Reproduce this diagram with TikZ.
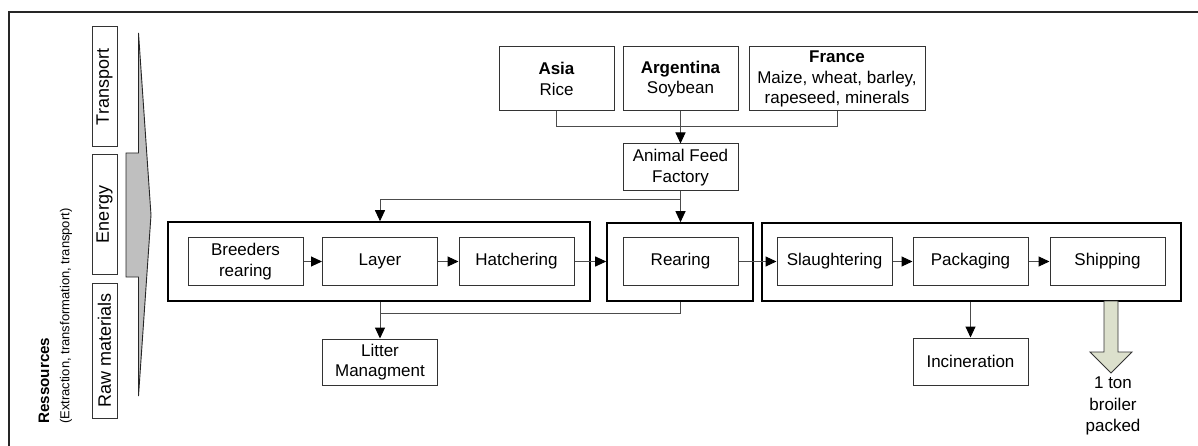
\documentclass[tikz,border=0pt]{standalone}
\usepackage{fontspec}
\setmainfont{Liberation Sans}
\usetikzlibrary{arrows.meta}
\definecolor{outfill}{RGB}{220,224,204}
\begin{document}
\begin{tikzpicture}[x=1pt,y=-1pt,
  box/.style={draw=black!80, line width=1pt, fill=white, inner sep=0pt, align=center,
    minimum width=115pt, minimum height=47pt, font=\fontsize{17}{20.5}\selectfont},
  sidebox/.style={draw=black!80, line width=1pt, inner sep=0pt, rotate=90,
    minimum height=25pt, font=\fontsize{18}{20}\selectfont},
  grp/.style={draw=black, line width=1.6pt, inner sep=0pt},
  conn/.style={draw=black!70, line width=1pt},
  arr/.style={conn, -{Triangle[length=11pt,width=10pt,fill=black,color=black]}},
  lbl/.style={inner sep=0pt, align=center, font=\fontsize{17}{21.5}\selectfont}
]
\useasboundingbox (0,0) rectangle (1198,446);
% frame
\draw[line width=2pt, black!85] (9,446) -- (9,12) -- (1198,12);

% left resources
\node[sidebox, minimum width=120pt] (transport) at (104.5,87) {Transport};
\node[sidebox, minimum width=119pt] (energy) at (104.5,214.5) {Energy};
\node[sidebox, minimum width=135pt] (raw) at (104.5,350.5) {Raw materials};
\node[rotate=90, anchor=west, inner sep=0pt, font=\bfseries\fontsize{15.2}{18}\selectfont] (res) at (44,424) {Ressources};
\node[rotate=90, anchor=west, inner sep=0pt, font=\fontsize{13}{15}\selectfont] (ext) at (66,424) {(Extraction, transformation, transport)};
\draw[fill=gray!50, draw=black!85, line width=0.9pt] (126,153) -- (138.5,153) -- (138.5,33) -- (151,215) -- (138.5,396) -- (138.5,277) -- (126,277) -- cycle;

% sources
\node[box, minimum height=64pt] (asia) at (556.5,79) {\textbf{Asia}\\Rice};
\node[box, minimum height=64pt] (arg) at (680.5,79) {\textbf{Argentina}\\Soybean};
\node[box, minimum height=64pt, minimum width=176pt] (france) at (837,79) {\textbf{France}\\Maize, wheat, barley,\\rapeseed, minerals};
\node[box] (feed) at (680.5,167.5) {Animal Feed\\Factory};

% groups
\node[grp, minimum width=422pt, minimum height=79pt] (g1) at (379,261.5) {};
\node[grp, minimum width=146pt, minimum height=78pt] (g2) at (680,262) {};
\node[grp, minimum width=419pt, minimum height=78pt] (g3) at (971.5,262) {};

\node[box] (breed) at (245.5,261.5) {Breeders\\rearing};
\node[box] (layer) at (380,261.5) {Layer};
\node[box] (hatch) at (516.5,261.5) {Hatchering};
\node[box] (rear) at (680.5,261.5) {Rearing};
\node[box] (slaught) at (834.5,261.5) {Slaughtering};
\node[box] (pack) at (970.5,261.5) {Packaging};
\node[box] (ship) at (1107.5,261.5) {Shipping};

\node[box, minimum height=46pt] (litter) at (380,362) {Litter\\Managment};
\node[box] (incin) at (970.5,361.5) {Incineration};

% connectors
\draw[conn] (asia.south) -- ++(0,15) -| (france.south);
\draw[arr] (arg.south) -- (feed.north);
\draw[arr] (feed.south) -- (rear |- g2.north);
\draw[arr] (feed.south) -- ++(0,8) -| (layer |- g1.north);
\draw[arr] (breed) -- (layer);
\draw[arr] (layer) -- (hatch);
\draw[arr] (hatch.east) -- (g2.west |- hatch.east);
\draw[arr] (rear) -- (slaught);
\draw[arr] (slaught) -- (pack);
\draw[arr] (pack) -- (ship);
\draw[arr] (layer |- g1.south) -- (litter.north);
\coordinate (join) at (380,313);
\draw[conn] (rear |- g2.south) |- (join);
\draw[arr] (pack |- g3.south) -- (incin.north);

% output
\draw[fill=outfill, draw=black!80, line width=0.9pt] (1104,301) -- (1118,301) -- (1118,352) -- (1132,352) -- (1111,373) -- (1090,352) -- (1104,352) -- cycle;
\node[lbl] (out) at (1113,406) {1 ton\\broiler\\packed};
\end{tikzpicture}
\end{document}
